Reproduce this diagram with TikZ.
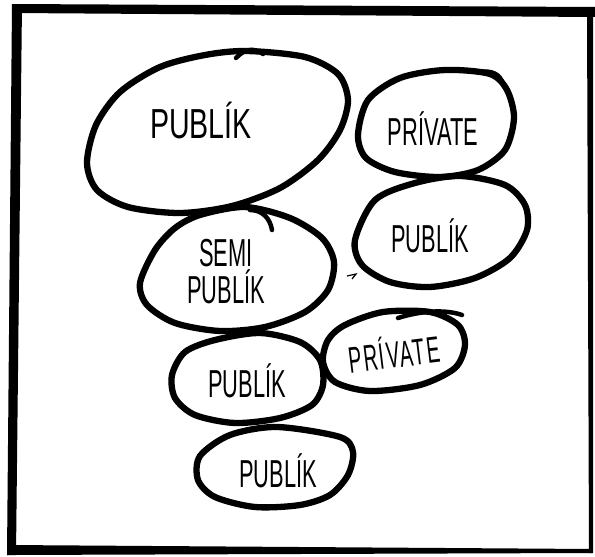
\documentclass[tikz,border=0pt]{standalone}
\usepackage{fontspec}
\newfontfamily\handfont[FakeStretch=0.56]{Liberation Sans}
\newfontfamily\handwide[FakeStretch=0.68]{Liberation Sans}
\newfontfamily\handloose[FakeStretch=0.53, LetterSpace=5]{Liberation Sans}

\tikzset{
    blob/.style={line width=6.3pt, line join=round, line cap=round},
    tail/.style={line width=4.5pt, line cap=round},
    word/.style={inner sep=0pt, align=center, font=\handfont\fontsize{39}{37}\selectfont},
}

\begin{document}
\begin{tikzpicture}[x=1pt, y=-1pt]
    \useasboundingbox (0,0) rectangle (595,557);

    % frame, drawn by hand so the sides are uneven
    \fill (12,4) -- (595,7) -- (595,17) -- (12,13) -- cycle;
    \fill (12,4) -- (22,4) -- (16,555) -- (7,555) -- cycle;
    \fill (7,545) -- (592,549) -- (592,553) -- (7,555) -- cycle;
    \fill (587,12) -- (593,12) -- (593,553) -- (589,553) -- cycle;

    % outlines
    \draw[blob] plot[smooth cycle] coordinates {(247,51) (305,57) (338,74) (348,100) (340,130) (318,160) (280,188) (232,206) (180,213) (128,207) (97,190) (87,163) (96,125) (120,92) (160,67) (205,55)};
    \draw[blob] plot[smooth cycle] coordinates {(400,78) (445,70) (490,74) (507,90) (514,118) (505,150) (478,170) (440,177) (395,172) (366,158) (358,135) (368,100)};
    \draw[blob] plot[smooth cycle] coordinates {(375,200) (415,183) (460,176) (505,185) (525,205) (527,230) (510,258) (475,278) (430,287) (390,282) (362,265) (355,240)};
    \draw[blob] plot[smooth cycle] coordinates {(200,215) (245,207) (290,218) (322,238) (334,262) (328,290) (305,312) (265,327) (220,331) (175,323) (147,305) (140,283) (155,250) (175,228)};
    \draw[blob] plot[smooth cycle] coordinates {(215,340) (260,333) (300,342) (320,360) (323,385) (312,405) (280,418) (235,423) (195,415) (175,398) (172,375) (185,352)};
    \draw[blob] plot[smooth cycle] coordinates {(345,325) (383,312) (430,312) (458,325) (465,345) (455,368) (420,385) (370,391) (335,382) (323,362) (328,340)};
    \draw[blob] plot[smooth cycle] coordinates {(230,435) (277,427) (340,437) (353,452) (348,475) (330,495) (300,505) (255,507) (215,497) (198,480) (200,456)};

    % pen starts and ends
    \draw[tail] (236,58) .. controls (245,48) and (255,48) .. (263,54);
    \draw[tail] (478,72) .. controls (492,70) and (500,74) .. (503,84);
    \draw[tail] (250,210) .. controls (262,210) and (270,218) .. (272,230);
    \draw[tail] (398,318) .. controls (420,311) and (445,309) .. (462,315);
    \draw[line width=1.2pt] (347,276) -- (356,274) -- (352,279);

    % words
    \node[word, anchor=base, font=\handwide\fontsize{42}{42}\selectfont] (bigpub) at (201,138) {PUBLÍK};
    \node[word, anchor=base] (toppriv) at (433,145) {PRÍVATE};
    \node[word, anchor=base] (rightpub) at (430,252) {PUBLÍK};
    \node[word] (semipub) at (226,272) {SEMI\\PUBLÍK};
    \node[word, anchor=base] (lowpub) at (247,397) {PUBLÍK};
    \node[word, rotate=7, font=\handloose\fontsize{37}{37}\selectfont] (lowpriv) at (394,352) {PRÍVATE};
    \node[word, anchor=base] (botpub) at (278,487) {PUBLÍK};
\end{tikzpicture}
\end{document}
